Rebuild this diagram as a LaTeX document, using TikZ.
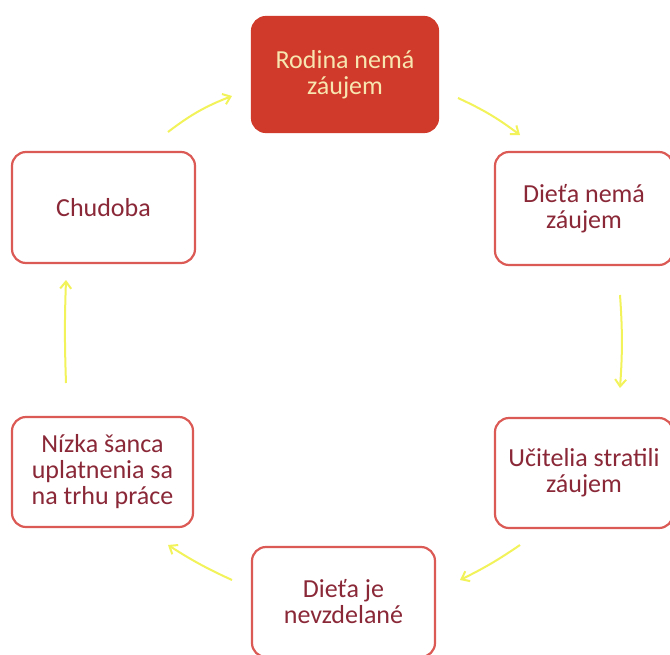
\documentclass[tikz,border=0pt]{standalone}
\usepackage{fontspec}
\setmainfont{Carlito}
\usetikzlibrary{arrows.meta}
\definecolor{boxred}{HTML}{D03A2A}
\definecolor{edgered}{HTML}{DC5A55}
\definecolor{txtred}{HTML}{8A2838}
\definecolor{txtlight}{HTML}{F8E6B0}
\definecolor{arryellow}{HTML}{F2F25A}
\begin{document}
\begin{tikzpicture}[x=1pt,y=-1pt,
  box/.style={draw=edgered,line width=2.2pt,rounded corners=14pt,fill=white,
    text=txtred,font=\fontsize{26}{26}\selectfont,align=center,inner sep=0pt},
  hotbox/.style={box,fill=boxred,draw=boxred,text=txtlight},
  flow/.style={draw=arryellow,line width=2pt,-{Straight Barb[length=7pt,width=11pt]}}]
\useasboundingbox (0,0) rectangle (670,654);
\clip (0,0) rectangle (670,654);
\node[hotbox,minimum width=186pt,minimum height=115pt] (a) at (345,74.5) {Rodina nemá\\záujem};
\node[box,minimum width=178pt,minimum height=113pt] (b) at (584,208.5) {Dieťa nemá\\záujem};
\node[box,minimum width=178pt,minimum height=110pt] (c) at (584,473) {Učitelia stratili\\záujem};
\node[box,minimum width=183pt,minimum height=110pt] (d) at (343.5,602) {Dieťa je\\nevzdelané};
\node[box,minimum width=181pt,minimum height=110pt] (e) at (102.5,472) {Nízka šanca\\uplatnenia sa\\na trhu práce};
\node[box,minimum width=183pt,minimum height=111pt] (f) at (103.5,207.5) {Chudoba};
\coordinate (f1) at (168,132); \coordinate (a0) at (232,96);
\coordinate (a1) at (458,98); \coordinate (b0) at (520,135);
\coordinate (b1) at (620,295); \coordinate (c0) at (620,388);
\coordinate (c1) at (520,545); \coordinate (d0) at (460,580);
\coordinate (d1) at (232,580); \coordinate (e0) at (168,545);
\coordinate (e1) at (66,383); \coordinate (f0) at (66,280);
\draw[flow] (f1) to[bend left=8] (a0);
\draw[flow] (a1) to[bend left=6] (b0);
\draw[flow] (b1) to[bend left=4] (c0);
\draw[flow] (c1) to[bend left=4] (d0);
\draw[flow] (d1) to[bend left=4] (e0);
\draw[flow] (e1) to[bend left=2] (f0);
\end{tikzpicture}
\end{document}
